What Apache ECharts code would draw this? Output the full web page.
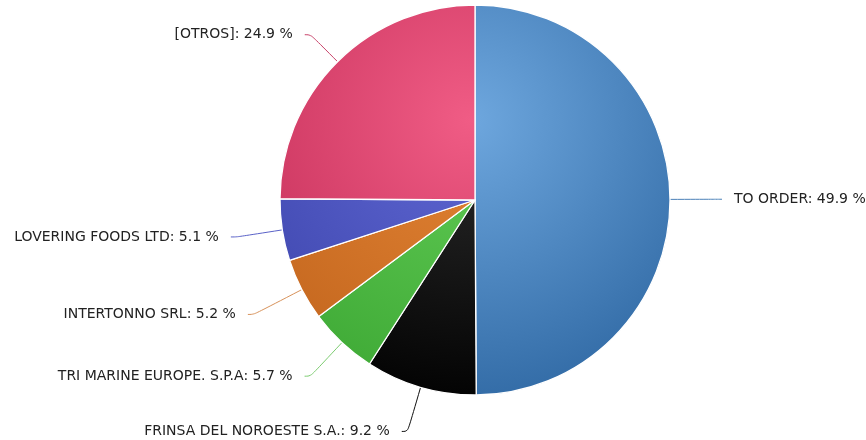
<!DOCTYPE html>
<html>
<head>
<meta charset="utf-8">
<script src="https://cdn.jsdelivr.net/npm/echarts@6/dist/echarts.min.js"></script>
<style>
html,body{margin:0;padding:0;background:#fff;}
#chart{width:866px;height:440px;}
</style>
</head>
<body>
<div id="chart"></div>
<script>
const categories = ["TO ORDER", "FRINSA DEL NOROESTE S.A.", "TRI MARINE EUROPE. S.P.A", "INTERTONNO SRL", "LOVERING FOODS LTD", "[OTROS]"];
const values = [49.9, 9.2, 5.7, 5.2, 5.1, 24.9];

const lightColors = ["#6ea7de", "#2c2c2c", "#62cc56", "#e38435", "#6068d4", "#f05c85"];
const darkColors  = ["#2f68a3", "#000000", "#3da834", "#c2651d", "#3d45ac", "#c22c56"];
const lineColors  = ["#4a80b8", "#111111", "#7ccc70", "#d8925a", "#5a62c8", "#c84068"];
const lineLengths = [46, 46, 46, 54, 46, 38];

function grad(i){
  return {
    type: 'radial', x: 470, y: 120, r: 300, global: true,
    colorStops: [{offset: 0, color: lightColors[i]}, {offset: 1, color: darkColors[i]}]
  };
}

const chart = echarts.init(document.getElementById('chart'), null, {renderer: 'canvas'});
chart.setOption({
  animation: false,
  backgroundColor: '#ffffff',
  series: [{
    type: 'pie',
    center: [475, 200],
    radius: 195,
    startAngle: 90,
    clockwise: true,
    avoidLabelOverlap: false,
    itemStyle: {borderColor: '#ffffff', borderWidth: 1.3},
    label: {
      show: true,
      position: 'outside',
      formatter: '{b}: {c} %',
      color: '#222222',
      fontFamily: 'DejaVu Sans',
      fontSize: 14,
      distanceToLabelLine: 12
    },
    labelLine: {show: true, length: 46, length2: 6, smooth: 0.4, lineStyle: {width: 1}},
    emphasis: {disabled: true},
    data: categories.map((name, i) => ({
      name: name,
      value: values[i],
      itemStyle: {color: grad(i)},
      labelLine: {length: lineLengths[i], lineStyle: {color: lineColors[i]}}
    }))
  }]
});
</script>
</body>
</html>
